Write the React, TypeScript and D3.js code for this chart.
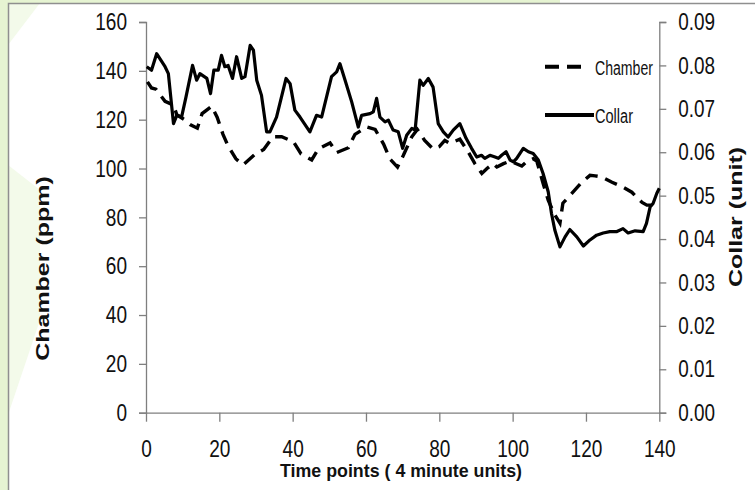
import React, { useEffect, useRef } from 'react';
import * as d3 from 'd3';

// collar readings (time point, unit)
const collarTime = [0.2, 1.5, 2.9, 5.2, 6.1, 7.5, 8.4, 9.7, 10.9, 12.7, 13.8, 14.7, 16.6, 17.6, 18.5, 19.7, 20.6, 21.5, 22.4, 23.6, 24.7, 26.1, 27, 28.4, 29.3, 30.2, 31.5, 32.9, 33.8, 35.6, 38.2, 39.3, 40.6, 42, 44.7, 46.5, 47.9, 50.6, 52, 52.9, 54.3, 56.1, 57.9, 58.8, 61.1, 62, 62.9, 63.8, 65.2, 66.1, 67.4, 68.8, 70, 71.1, 72.5, 73.4, 74.7, 75.6, 77, 78.3, 79.7, 81.1, 82.4, 83.8, 85.6, 87.3, 88.8, 90.2, 91.5, 92.4, 93.8, 95.2, 96.1, 97, 98.2, 99.3, 100.2, 101.1, 102.9, 104.3, 105.6, 107, 108.3, 109.7, 110.6, 111.5, 112.9, 114.3, 115.6, 117.5, 119.3, 121.1, 122.9, 124.7, 126.5, 128.3, 130.1, 131.5, 133.4, 135.6, 136.5, 137.5, 138.3, 139.3, 140];
const collarValues = [0.0797, 0.0789, 0.0827, 0.0797, 0.0781, 0.0666, 0.0685, 0.0681, 0.0727, 0.08, 0.0766, 0.0781, 0.077, 0.0735, 0.0789, 0.0789, 0.0823, 0.0797, 0.08, 0.077, 0.082, 0.077, 0.0774, 0.0846, 0.0835, 0.0766, 0.0731, 0.0647, 0.0647, 0.0681, 0.077, 0.0758, 0.0697, 0.0681, 0.0647, 0.0685, 0.0681, 0.0774, 0.0785, 0.0804, 0.0766, 0.0716, 0.0658, 0.0685, 0.0689, 0.0693, 0.0724, 0.0681, 0.067, 0.0674, 0.0651, 0.0647, 0.0609, 0.0639, 0.0655, 0.0651, 0.0766, 0.0754, 0.077, 0.075, 0.0666, 0.0647, 0.0635, 0.0651, 0.0666, 0.0632, 0.0609, 0.0589, 0.0593, 0.0586, 0.0593, 0.0589, 0.0586, 0.0593, 0.0601, 0.0582, 0.0578, 0.0586, 0.0609, 0.0601, 0.0597, 0.0582, 0.0551, 0.0509, 0.0459, 0.0421, 0.0382, 0.0405, 0.0422, 0.0405, 0.0384, 0.0398, 0.0409, 0.0414, 0.0417, 0.0417, 0.0424, 0.0414, 0.0419, 0.0417, 0.0436, 0.0474, 0.0482, 0.0505, 0.0517];

// chamber readings (time point, ppm)
const chamberTime = [0.4, 1.5, 2.7, 5.2, 7.5, 8.4, 10.5, 12, 14, 15.3, 17.9, 19.4, 21, 22.3, 24.5, 26.5, 29.5, 32.1, 34.6, 37, 40.2, 42.3, 45.2, 47, 50.2, 52, 55.2, 57, 60.2, 62.5, 64.8, 66.5, 68.6, 70.2, 72.5, 74, 76, 78.3, 80, 81.5, 82.9, 85.6, 87.8, 89.7, 91.6, 93, 94.7, 95.7, 97.5, 99.3, 102.5, 104, 105.6, 106.6, 108.3, 109.7, 111.5, 112.9, 113.7, 116.2, 118.9, 121.1, 122.5, 124.4, 127.1, 130.1, 132.5, 134, 135.3, 136.6, 138, 140];
const chamberValues = [135.5, 133, 132.5, 127.5, 126, 122, 120, 118, 116.5, 122.5, 125.5, 121, 114, 109.5, 104, 101.5, 105.5, 107.8, 113, 113, 111, 106, 103.5, 108, 110.5, 106.5, 108.5, 114, 117, 116, 110, 104, 100.6, 105.4, 113, 116, 111.5, 108, 109, 111.5, 110.3, 112, 107, 102, 98, 100, 102, 100.6, 102, 103, 101, 103, 104, 103, 94, 87, 81, 77.6, 85.8, 89.9, 94.4, 97.2, 97, 96.5, 94.4, 92.4, 90.3, 88, 86.1, 85, 85, 86];

const xTicks = [0, 20, 40, 60, 80, 100, 120, 140];
const leftTicks = [0, 20, 40, 60, 80, 100, 120, 140, 160];
const rightTicks = [0, 0.01, 0.02, 0.03, 0.04, 0.05, 0.06, 0.07, 0.08, 0.09];

const font = '"Liberation Sans", Arial, sans-serif';

// squeeze label text to the narrow look of the original
const labelWidth = (s: string) => s.split('').reduce((w, c) => w + (c === '.' ? 5 : 10.6), 0);

export default function App() {
  const ref = useRef<SVGSVGElement>(null);

  useEffect(() => {
    const svg = d3.select(ref.current);
    svg.selectAll('*').remove();

    const x = d3.scaleLinear().domain([0, 140]).range([146, 659.3]);
    const yL = d3.scaleLinear().domain([0, 160]).range([412.7, 22]);
    const yR = d3.scaleLinear().domain([0, 0.09]).range([412.7, 22]);

    // background + watermark bits
    svg.append('rect').attr('width', 755).attr('height', 490).attr('fill', '#fff');
    svg.append('path')
      .attr('d', 'M8,3 L40,3 L8,45 Z M8,165 L40,190 L40,320 L8,415 Z')
      .attr('fill', '#f3faea');
    svg.append('rect').attr('x', 0).attr('y', 0).attr('width', 8).attr('height', 490).attr('fill', '#e6f4d2');
    svg.append('rect').attr('x', 0).attr('y', 0).attr('width', 560).attr('height', 3).attr('fill', '#e6f4d2');
    svg.append('path')
      .attr('d', 'M8.5,490 L8.5,3.5 L755,3.5')
      .attr('fill', 'none')
      .attr('stroke', '#8f8f8f')
      .attr('stroke-width', 1.5);

    const styleAxis = (g: any) => {
      g.selectAll('path, line').attr('stroke', '#7f7f7f').attr('stroke-width', 1.3);
      g.selectAll('text')
        .attr('fill', '#111')
        .style('font-family', font)
        .style('font-size', '24px')
        .attr('lengthAdjust', 'spacingAndGlyphs')
        .attr('textLength', function (this: any) { return labelWidth(this.textContent); });
    };

    svg.append('g')
      .attr('transform', 'translate(0,412.7)')
      .call(d3.axisBottom(x).tickValues(xTicks).tickSize(9).tickSizeOuter(0).tickPadding(18).tickFormat(d3.format('d')))
      .call(styleAxis);

    svg.append('g')
      .attr('transform', 'translate(146,0)')
      .call(d3.axisLeft(yL).tickValues(leftTicks).tickSize(7).tickPadding(12).tickFormat(d3.format('d')))
      .call(styleAxis);

    svg.append('g')
      .attr('transform', 'translate(659.3,0)')
      .call(d3.axisRight(yR).tickValues(rightTicks).tickSize(7).tickPadding(12).tickFormat(d3.format('.2f')))
      .call(styleAxis);

    const chamberLine = d3.line<number>()
      .x((d, i) => x(chamberTime[i]))
      .y(d => yL(d));
    const collarLine = d3.line<number>()
      .x((d, i) => x(collarTime[i]))
      .y(d => yR(d));

    svg.append('path')
      .datum(chamberValues)
      .attr('d', chamberLine)
      .attr('fill', 'none')
      .attr('stroke', '#000')
      .attr('stroke-width', 3.4)
      .attr('stroke-dasharray', '13,8');

    svg.append('path')
      .datum(collarValues)
      .attr('d', collarLine)
      .attr('fill', 'none')
      .attr('stroke', '#000')
      .attr('stroke-width', 3.2)
      .attr('stroke-linejoin', 'round');

    // legend
    svg.append('line').attr('x1', 545).attr('x2', 581).attr('y1', 66.7).attr('y2', 66.7)
      .attr('stroke', '#000').attr('stroke-width', 4).attr('stroke-dasharray', '14,8');
    svg.append('text').attr('x', 595).attr('y', 75).text('Chamber')
      .attr('textLength', 58).attr('lengthAdjust', 'spacingAndGlyphs')
      .style('font-family', font).style('font-size', '20px').attr('fill', '#111');
    svg.append('line').attr('x1', 545).attr('x2', 594).attr('y1', 115).attr('y2', 115)
      .attr('stroke', '#000').attr('stroke-width', 4);
    svg.append('text').attr('x', 595).attr('y', 123).text('Collar')
      .attr('textLength', 38).attr('lengthAdjust', 'spacingAndGlyphs')
      .style('font-family', font).style('font-size', '20px').attr('fill', '#111');

    // axis titles
    svg.append('text')
      .attr('transform', 'translate(43,268.5) rotate(-90) scale(1,0.72)')
      .attr('text-anchor', 'middle').attr('dy', '0.35em')
      .style('font-family', font).style('font-weight', 'bold').style('font-size', '25px')
      .attr('fill', '#111')
      .text('Chamber (ppm)');
    svg.append('text')
      .attr('transform', 'translate(735.5,217) rotate(-90) scale(1,0.72)')
      .attr('text-anchor', 'middle').attr('dy', '0.35em')
      .style('font-family', font).style('font-weight', 'bold').style('font-size', '25px')
      .attr('fill', '#111')
      .text('Collar (unit)');
    svg.append('text')
      .attr('x', 401).attr('y', 476.5)
      .attr('text-anchor', 'middle')
      .attr('textLength', 242).attr('lengthAdjust', 'spacingAndGlyphs')
      .style('font-family', font).style('font-weight', 'bold').style('font-size', '19px')
      .attr('fill', '#111')
      .text('Time points ( 4 minute units)');
  }, []);

  return (
    <svg ref={ref} width={755} height={490} style={{ position: 'absolute', left: 0, top: 0 }} />
  );
}
